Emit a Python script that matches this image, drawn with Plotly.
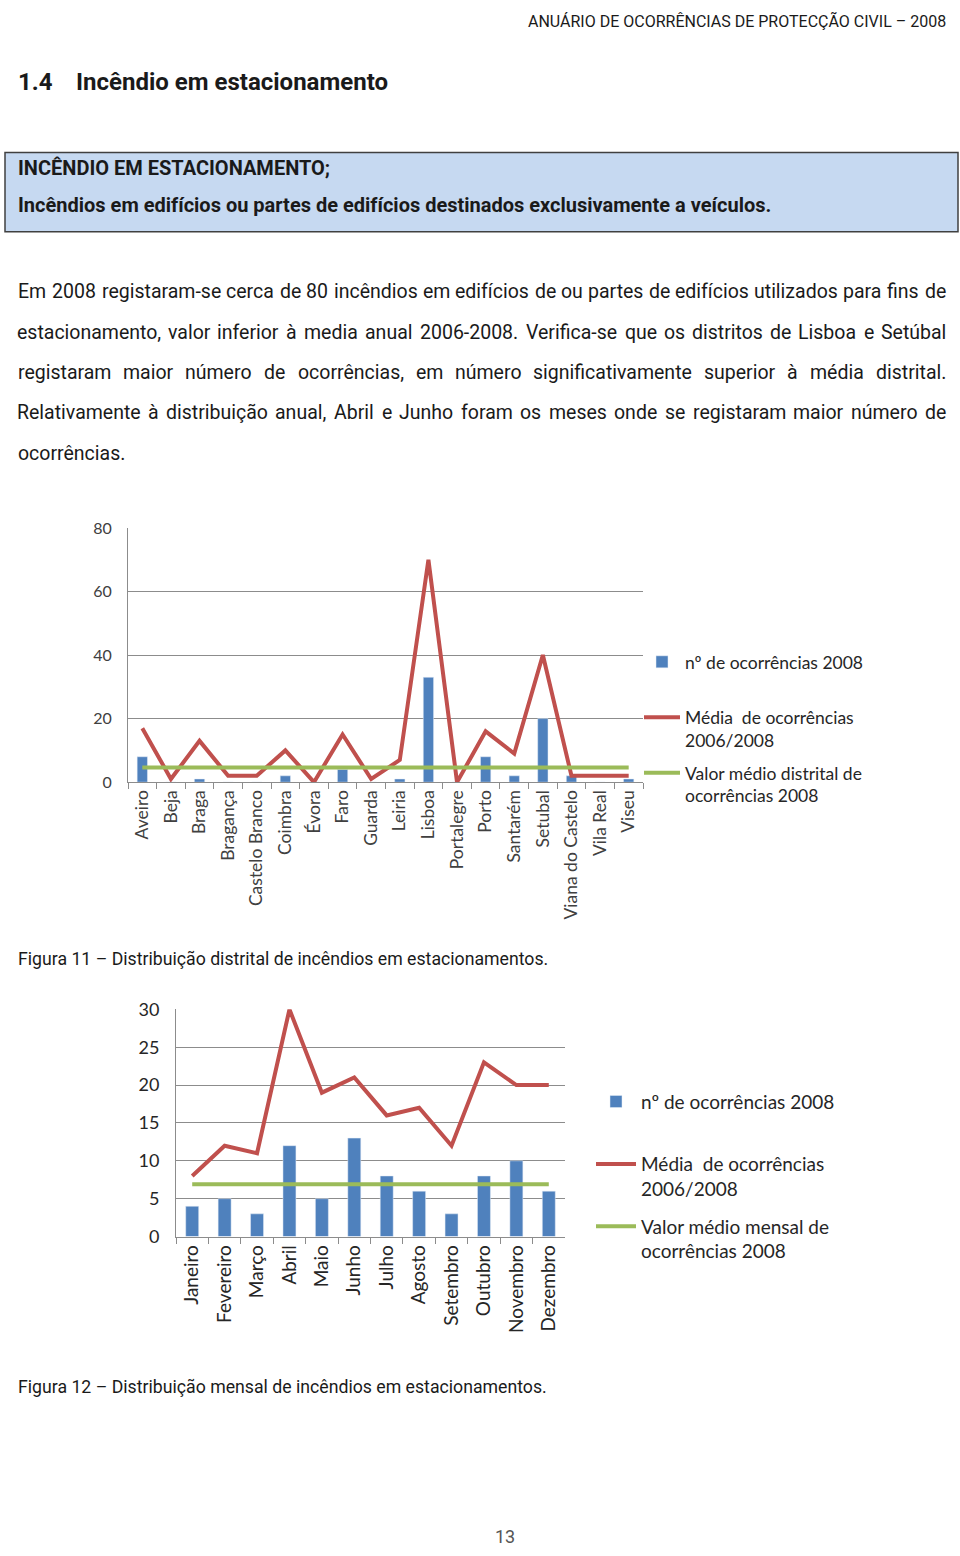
import plotly.graph_objects as go

# --- data -------------------------------------------------------------
districts = ["Aveiro", "Beja", "Braga", "Bragança", "Castelo Branco", "Coimbra",
             "Évora", "Faro", "Guarda", "Leiria", "Lisboa", "Portalegre", "Porto",
             "Santarém", "Setubal", "Viana do Castelo", "Vila Real", "Viseu"]
dist_2008 = [8, 0, 1, 0, 0, 2, 0, 4, 0, 1, 33, 0, 8, 2, 20, 2, 0, 1]
dist_avg_0608 = [17, 1, 13, 2, 2, 10, 0, 15, 1, 7, 70, 0, 16, 9, 40, 2, 2, 2]
dist_mean_2008 = [4.6] * len(districts)

months = ["Janeiro", "Fevereiro", "Março", "Abril", "Maio", "Junho", "Julho",
          "Agosto", "Setembro", "Outubro", "Novembro", "Dezembro"]
month_2008 = [4, 5, 3, 12, 5, 13, 8, 6, 3, 8, 10, 6]
month_avg_0608 = [8, 12, 11, 30, 19, 21, 16, 17, 12, 23, 20, 20]
month_mean_2008 = [6.9] * len(months)

W, H = 960, 1556
BLUE, RED, GREEN = "#4f81bd", "#c0504d", "#9bbb59"
PAGE_FONT = "Roboto, sans-serif"
CHART_FONT = "Lato, Open Sans, sans-serif"


def px(x):
    return x / W


def py(y):
    # page y (pixels from top of the printed page) -> paper fraction;
    # the captured page ends up slightly squeezed/offset vertically
    return 1 - ((y - 12.5) / 0.985) / H


def py_raw(y):
    return 1 - y / H


fig = go.Figure()

# chart 1 - districts
fig.add_trace(go.Bar(x=districts, y=dist_2008, marker_color=BLUE, width=0.36,
                     name="nº de ocorrências 2008<br>\u00a0", legend="legend",
                     legendgroup="a", xaxis="x", yaxis="y"))
fig.add_trace(go.Scatter(x=districts, y=dist_avg_0608, mode="lines",
                         line=dict(color=RED, width=4),
                         name="Média  de ocorrências<br>2006/2008", legend="legend",
                         legendgroup="b", xaxis="x", yaxis="y"))
fig.add_trace(go.Scatter(x=districts, y=dist_mean_2008, mode="lines",
                         line=dict(color=GREEN, width=4),
                         name="Valor médio distrital de<br>ocorrências 2008", legend="legend",
                         legendgroup="c", xaxis="x", yaxis="y"))

# chart 2 - months
fig.add_trace(go.Bar(x=months, y=month_2008, marker_color=BLUE, width=0.4,
                     name="nº de ocorrências 2008<br>\u00a0", legend="legend2",
                     legendgroup="d", xaxis="x2", yaxis="y2"))
fig.add_trace(go.Scatter(x=months, y=month_avg_0608, mode="lines",
                         line=dict(color=RED, width=4),
                         name="Média  de ocorrências<br>2006/2008", legend="legend2",
                         legendgroup="e", xaxis="x2", yaxis="y2"))
fig.add_trace(go.Scatter(x=months, y=month_mean_2008, mode="lines",
                         line=dict(color=GREEN, width=4),
                         name="Valor médio mensal de<br>ocorrências 2008", legend="legend2",
                         legendgroup="f", xaxis="x2", yaxis="y2"))

grid = "#8c8c8c"
fig.update_layout(
    width=W, height=H,
    margin=dict(l=0, r=0, t=0, b=0),
    paper_bgcolor="white", plot_bgcolor="white",
    showlegend=True,
    xaxis=dict(domain=[px(128), px(643)], anchor="y", type="category",
               range=[-0.5, len(districts) - 0.5], tickangle=-90,
               showline=True, linecolor=grid, linewidth=1, ticks="outside",
               tickson="boundaries", ticklen=6, tickcolor=grid,
               tickfont=dict(family=CHART_FONT, size=17.5, color="#404040"),
               showgrid=False),
    yaxis=dict(domain=[py(782), py(528)], anchor="x", range=[0, 80], dtick=20,
               showline=True, linecolor=grid, linewidth=1, gridcolor=grid,
               gridwidth=1, zeroline=False, ticklabelstandoff=12,
               tickfont=dict(family=CHART_FONT, size=16, color="#404040")),
    xaxis2=dict(domain=[px(176), px(565)], anchor="y2", type="category",
                range=[-0.5, len(months) - 0.5], tickangle=-90,
                showline=True, linecolor=grid, linewidth=1, ticks="outside",
                tickson="boundaries", ticklen=6, tickcolor=grid,
                tickfont=dict(family=CHART_FONT, size=19, color="#262626"),
                showgrid=False),
    yaxis2=dict(domain=[py(1236), py(1009)], anchor="x2", range=[0, 30], dtick=5,
                showline=True, linecolor=grid, linewidth=1, gridcolor=grid,
                gridwidth=1, zeroline=False, ticklabelstandoff=12,
                tickfont=dict(family=CHART_FONT, size=18, color="#262626")),
    legend=dict(x=px(639), y=py_raw(641), xanchor="left", yanchor="top",
                traceorder="grouped", tracegroupgap=7, valign="top",
                itemwidth=36, bgcolor="rgba(0,0,0,0)",
                font=dict(family=CHART_FONT, size=17.5, color="#262626")),
    legend2=dict(x=px(591), y=py_raw(1086), xanchor="left", yanchor="top",
                 traceorder="grouped", tracegroupgap=10, valign="top",
                 itemwidth=40, bgcolor="rgba(0,0,0,0)",
                 font=dict(family=CHART_FONT, size=19, color="#262626")),
)

# page decoration: info box
fig.add_shape(type="rect", xref="paper", yref="paper",
              x0=px(5), x1=px(958), y0=py(232), y1=py(153),
              fillcolor="#c6d9f1", line=dict(color="#404040", width=1.5),
              layer="below")


def text(x, y, s, size, bold=False, anchor="left", color="#1a1a1a", yfrac=None):
    fig.add_annotation(x=px(x), y=py(y) if yfrac is None else yfrac,
                       xref="paper", yref="paper", text=s,
                       showarrow=False, xanchor=anchor, yanchor="middle",
                       font=dict(family=PAGE_FONT, size=size, color=color,
                                 weight="bold" if bold else "normal"))


text(948, 0, "ANUÁRIO DE OCORRÊNCIAS DE PROTECÇÃO CIVIL – 2008", 16, anchor="right",
     yfrac=py_raw(9))
text(16, 82, "1.4", 24, bold=True)
text(74, 82, "Incêndio em estacionamento", 24, bold=True)
text(16, 168, "INCÊNDIO EM ESTACIONAMENTO;", 20, bold=True)
text(16, 205, "Incêndios em edifícios ou partes de edifícios destinados exclusivamente a veículos.", 20, bold=True)

# justified paragraph: rough Roboto advance widths (1/2048 em)
ADV = {" ": 507, "a": 1087, "b": 1122, "c": 1046, "d": 1126, "e": 1058, "f": 694,
       "g": 1122, "h": 1102, "i": 486, "j": 478, "k": 1014, "l": 486, "m": 1751,
       "n": 1104, "o": 1141, "p": 1122, "q": 1133, "r": 677, "s": 1031, "t": 654,
       "u": 1101, "v": 968, "w": 1502, "x": 991, "y": 947, "z": 991,
       "E": 1163, "L": 1103, "R": 1262, "S": 1217, "V": 1304, "A": 1336, "J": 1100,
       ",": 393, ".": 527, "-": 552}
ACC = str.maketrans("àáâãçéêíóôúÉ", "aaaaceeiooue")


def word_w(w, size):
    return sum(ADV.get(ch, 1150) for ch in w.translate(ACC)) / 2048 * size * 1.015


paragraph = [
    "Em 2008 registaram-se cerca de 80 incêndios em edifícios de ou partes de edifícios utilizados para fins de",
    "estacionamento, valor inferior à media anual 2006-2008. Verifica-se que os distritos de Lisboa e Setúbal",
    "registaram maior número de ocorrências, em número significativamente superior à média distrital.",
    "Relativamente à distribuição anual, Abril e Junho foram os meses onde se registaram maior número de",
    "ocorrências.",
]
P_SIZE, P_X0, P_X1 = 19.5, 18, 946
for i, line in enumerate(paragraph):
    yy = 292 + i * 40.3
    words = line.split(" ")
    if i == len(paragraph) - 1 or len(words) < 2:
        text(P_X0 - 2, yy, line, P_SIZE)
        continue
    widths = [word_w(w, P_SIZE) for w in words]
    gap = (P_X1 - P_X0 - sum(widths)) / (len(words) - 1)
    x = P_X0
    for w, wd in zip(words, widths):
        text(x + wd / 2, yy, w, P_SIZE, anchor="center")
        x += wd + gap

text(16, 959, "Figura 11 – Distribuição distrital de incêndios em estacionamentos.", 17.7)
text(16, 1386, "Figura 12 – Distribuição mensal de incêndios em estacionamentos.", 17.7)
text(505, 0, "13", 18, anchor="center", color="#555555", yfrac=py_raw(1546))

fig.write_html(
    "out.html",
    config={"displayModeBar": False},
    post_script=(
        "document.documentElement.style.margin='0';"
        "document.body.style.margin='0';"
        "document.body.style.overflow='hidden';"
        "var g=document.querySelector('.plotly-graph-div');"
        "g.style.position='absolute';g.style.top='0px';g.style.left='0px';"
    ),
)
